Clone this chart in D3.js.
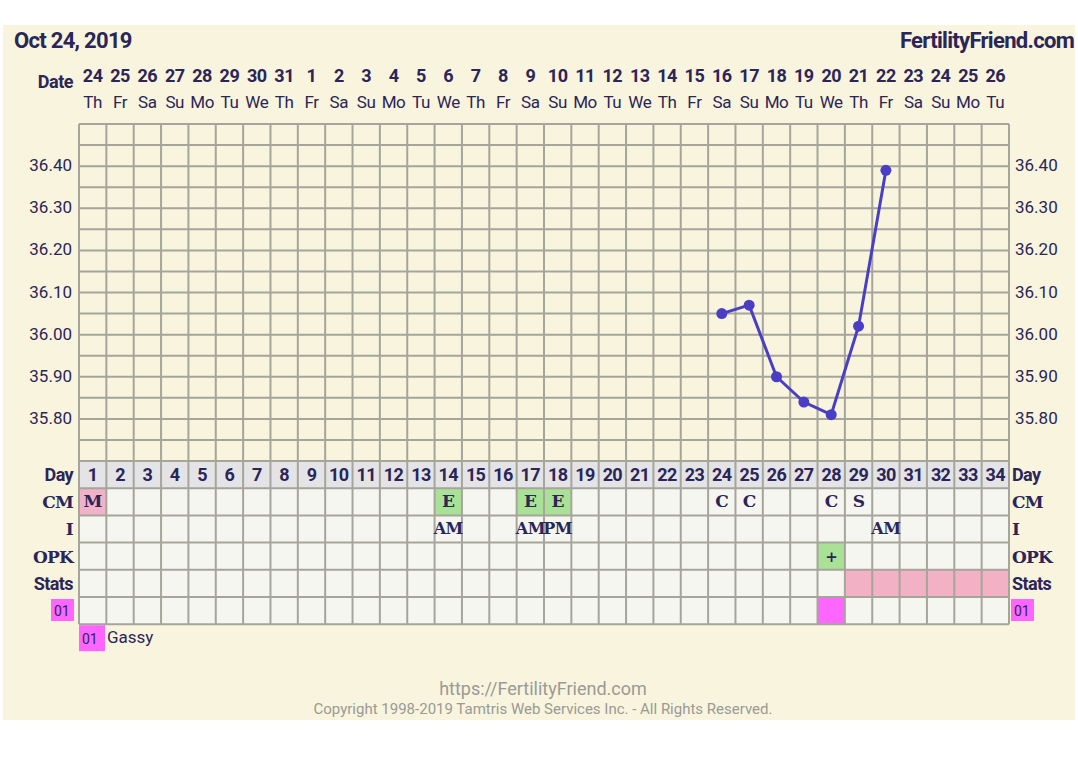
<!DOCTYPE html>
<html>
<head>
<meta charset="utf-8">
<script src="https://cdn.jsdelivr.net/npm/d3@7"></script>
<style>
  body { margin: 0; background: #fff; }
  svg { display: block; }
  text { font-family: Roboto, "Noto Sans", sans-serif; fill: #2b2558; }
  .serif { font-family: "DejaVu Serif", "Liberation Serif", serif; font-weight: bold; }
</style>
</head>
<body>
<div id="chart"></div>
<script>
// chart data
var dateNums = [24,25,26,27,28,29,30,31,1,2,3,4,5,6,7,8,9,10,11,12,13,14,15,16,17,18,19,20,21,22,23,24,25,26];
var weekDays = ['Th','Fr','Sa','Su','Mo','Tu','We','Th','Fr','Sa','Su','Mo','Tu','We','Th','Fr','Sa','Su','Mo','Tu','We','Th','Fr','Sa','Su','Mo','Tu','We','Th','Fr','Sa','Su','Mo','Tu'];
var cycleDays = d3.range(1, 35);
var tempTicks = [36.40, 36.30, 36.20, 36.10, 36.00, 35.90, 35.80];
// temperatures by cycle day
var tempDays = [24, 25, 26, 27, 28, 29, 30];
var tempValues = [36.05, 36.07, 35.90, 35.84, 35.81, 36.02, 36.39];
// cervical mucus
var cmDays = [1, 14, 17, 18, 24, 25, 28, 29];
var cmCodes = ['M', 'E', 'E', 'E', 'C', 'C', 'C', 'S'];
// intercourse
var iDays = [14, 17, 18, 30];
var iCodes = ['AM', 'AM', 'PM', 'AM'];
// ovulation tests
var opkDays = [28];
var opkCodes = ['+'];
// stats shading
var statsDays = [29, 30, 31, 32, 33, 34];
// custom symptom 01
var customDays = [28];
var customLegend = ['01', 'Gassy'];

var W = 1078, H = 768;
var svg = d3.select('#chart').append('svg').attr('width', W).attr('height', H);

var gridC = '#a6a59c';
var left = 79, right = 1009, topY = 124, tempBottom = 461, rowH = 27.2;
var rowNames = ['Day', 'CM', 'I', 'OPK', 'Stats', '01'];
var tableBottom = tempBottom + rowH * rowNames.length;

// cream background
svg.append('rect').attr('x', 3).attr('y', 25).attr('width', 1072).attr('height', 695).attr('fill', '#f8f4dd');

var x = d3.scaleLinear().domain([0, 34]).range([left, right]);
var colW = x(1) - x(0);
var cx = function(day) { return x(day - 0.5); };
var y = d3.scaleLinear().domain([35.70, 36.50]).range([tempBottom, topY]);
var rowY = function(i) { return tempBottom + i * rowH; };

// header
svg.append('text').attr('x', 14).attr('y', 48).attr('font-size', 22).attr('font-weight', 'bold')
  .attr('letter-spacing', -0.7).text('Oct 24, 2019');
svg.append('text').attr('x', 1074).attr('y', 48).attr('font-size', 22).attr('font-weight', 'bold')
  .attr('letter-spacing', -0.7).attr('text-anchor', 'end').text('FertilityFriend.com');

svg.append('text').attr('x', 73).attr('y', 88).attr('font-size', 18).attr('font-weight', 'bold')
  .attr('letter-spacing', -0.5).attr('text-anchor', 'end').text('Date');
svg.append('g').selectAll('text').data(dateNums).enter().append('text')
  .attr('x', function(d, i) { return cx(i + 1); }).attr('y', 82)
  .attr('text-anchor', 'middle').attr('font-size', 18).attr('font-weight', 'bold')
  .attr('letter-spacing', -0.5).text(function(d) { return d; });
svg.append('g').selectAll('text').data(weekDays).enter().append('text')
  .attr('x', function(d, i) { return cx(i + 1); }).attr('y', 108)
  .attr('text-anchor', 'middle').attr('font-size', 17).attr('letter-spacing', -0.4)
  .text(function(d) { return d; });

// table cell backgrounds
svg.append('rect').attr('x', left).attr('y', rowY(0)).attr('width', right - left).attr('height', rowH).attr('fill', '#e4e4e6');
svg.append('rect').attr('x', left).attr('y', rowY(1)).attr('width', right - left).attr('height', rowH * 5).attr('fill', '#f6f6f0');

function fillCells(days, row, color) {
  svg.append('g').selectAll('rect').data(days).enter().append('rect')
    .attr('x', function(d) { return x(d - 1); }).attr('y', rowY(row))
    .attr('width', colW).attr('height', rowH).attr('fill', color);
}
fillCells(cmDays.filter(function(d, i) { return cmCodes[i] === 'M'; }), 1, '#f0b2c6');
fillCells(cmDays.filter(function(d, i) { return cmCodes[i] === 'E'; }), 1, '#a9e296');
fillCells(opkDays, 3, '#a9e296');
fillCells(statsDays, 4, '#f2b1c4');
fillCells(customDays, 5, '#ff66ff');

// grid lines
var grid = svg.append('g').attr('stroke', gridC).attr('stroke-width', 2);
grid.selectAll('.v').data(d3.range(0, 35)).enter().append('line')
  .attr('x1', function(d) { return x(d); }).attr('x2', function(d) { return x(d); })
  .attr('y1', topY).attr('y2', tableBottom);
grid.selectAll('.h').data(d3.range(0, 17)).enter().append('line')
  .attr('x1', left).attr('x2', right)
  .attr('y1', function(d) { return y(35.70 + d * 0.05); }).attr('y2', function(d) { return y(35.70 + d * 0.05); });
grid.selectAll('.r').data(d3.range(1, rowNames.length + 1)).enter().append('line')
  .attr('x1', left).attr('x2', right)
  .attr('y1', function(d) { return rowY(d); }).attr('y2', function(d) { return rowY(d); });

// temperature axis labels
[{x: 72, anchor: 'end'}, {x: 1015, anchor: 'start'}].forEach(function(side) {
  svg.append('g').selectAll('text').data(tempTicks).enter().append('text')
    .attr('x', side.x).attr('y', function(d) { return y(d) + 5; })
    .attr('text-anchor', side.anchor).attr('font-size', 17)
    .text(function(d) { return d.toFixed(2); });
});

// temperature line
var pts = tempDays.map(function(d, i) { return [cx(d), y(tempValues[i])]; });
svg.append('path').datum(pts).attr('fill', 'none').attr('stroke', '#4a3ec4').attr('stroke-width', 3)
  .attr('d', d3.line());
svg.append('g').selectAll('circle').data(pts).enter().append('circle')
  .attr('cx', function(d) { return d[0]; }).attr('cy', function(d) { return d[1]; })
  .attr('r', 5.5).attr('fill', '#4a3ec4');

// day numbers
svg.append('g').selectAll('text').data(cycleDays).enter().append('text')
  .attr('x', function(d) { return cx(d); }).attr('y', rowY(0) + 20)
  .attr('text-anchor', 'middle').attr('font-size', 18).attr('font-weight', 'bold')
  .attr('letter-spacing', -0.6).text(function(d) { return d; });

function codes(days, vals, row, cls, size) {
  svg.append('g').selectAll('text').data(days).enter().append('text')
    .attr('class', cls)
    .attr('x', function(d) { return cx(d); }).attr('y', rowY(row) + 19)
    .attr('text-anchor', 'middle').attr('font-size', size)
    .attr('letter-spacing', -0.5)
    .text(function(d, i) { return vals[i]; });
}
codes(cmDays, cmCodes, 1, 'serif', 17);
codes(iDays, iCodes, 2, 'serif', 16);
codes(opkDays, opkCodes, 3, 'serif', 15);

// row labels
[{x: 73, anchor: 'end'}, {x: 1012, anchor: 'start'}].forEach(function(side) {
  rowNames.forEach(function(name, i) {
    if (name === '01') {
      var bx = side.anchor === 'end' ? 51 : 1011;
      svg.append('rect').attr('x', bx).attr('y', rowY(i) + 2).attr('width', 23).attr('height', 22).attr('fill', '#ff66ff');
      svg.append('text').attr('x', bx + 3).attr('y', rowY(i) + 19).attr('font-size', 14).text(name);
      return;
    }
    var sans = (name === 'Day' || name === 'Stats');
    svg.append('text').attr('class', sans ? null : 'serif')
      .attr('x', side.x).attr('y', rowY(i) + 20)
      .attr('text-anchor', side.anchor).attr('font-size', sans ? 18 : 17)
      .attr('font-weight', 'bold').attr('letter-spacing', sans ? -0.6 : -0.8)
      .text(name);
  });
});

// legend
svg.append('rect').attr('x', left).attr('y', tableBottom + 1).attr('width', 26).attr('height', 26).attr('fill', '#ff66ff');
svg.append('text').attr('x', left + 3).attr('y', tableBottom + 20).attr('font-size', 14).text(customLegend[0]);
svg.append('text').attr('x', left + 28).attr('y', tableBottom + 19).attr('font-size', 17).text(customLegend[1]);

// footer
svg.append('text').attr('x', 543).attr('y', 695).attr('text-anchor', 'middle').attr('font-size', 18)
  .style('fill', '#9a9a96').text('https://FertilityFriend.com');
svg.append('text').attr('x', 543).attr('y', 714).attr('text-anchor', 'middle').attr('font-size', 15)
  .style('fill', '#9a9a96').text('Copyright 1998-2019 Tamtris Web Services Inc. - All Rights Reserved.');
</script>
</body>
</html>
